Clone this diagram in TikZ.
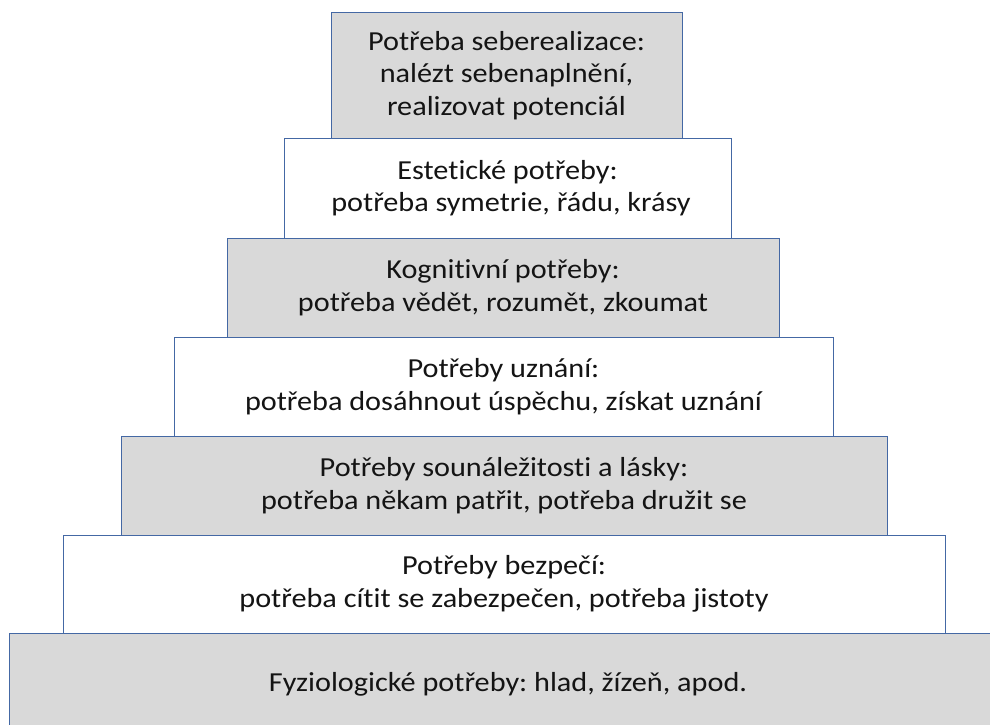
\documentclass[tikz,border=0pt]{standalone}
\usepackage{fontspec}
\setmainfont{Carlito}[FakeStretch=1.1, Ligatures=NoCommon]
\usepackage{tikz}
\usetikzlibrary{positioning}

\definecolor{edgeblue}{RGB}{68,104,164}
\definecolor{boxgray}{RGB}{217,217,217}
\frenchspacing

\begin{document}
\begin{tikzpicture}[x=1pt, y=-1pt, font=\fontsize{27.5}{32.5}\selectfont]

    % Styles for the pyramid steps
    \tikzset{
        needbox/.style={
            draw=edgeblue, line width=1pt, rectangle, align=center,
            inner sep=0pt, text=black!92
        },
        graystep/.style={needbox, fill=boxgray},
        whitestep/.style={needbox, fill=white}
    }

    \useasboundingbox (0,0) rectangle (990,725);

    % ==========================================
    % Bottom level (runs off the page)
    % ==========================================
    \node[graystep, minimum width=998pt, minimum height=102pt] (fyz) at (508,684)
        {Fyziologické potřeby: hlad, žízeň, apod.};

    % ==========================================
    % Middle levels
    % ==========================================
    \node[whitestep, minimum width=882pt, minimum height=98pt] (bezp) at (504,584)
        {Potřeby bezpečí:\\ potřeba cítit se zabezpečen, potřeba jistoty};
    \node[graystep, minimum width=766pt, minimum height=99pt] (soun) at (504,485.5)
        {Potřeby sounáležitosti a lásky:\\ potřeba někam patřit, potřeba družit se};
    \node[whitestep, minimum width=659pt, minimum height=99pt] (uzn) at (503.5,386.5)
        {Potřeby uznání:\\ potřeba dosáhnout úspěchu, získat uznání};
    \node[graystep, minimum width=552pt, minimum height=99pt] (kogn) at (503,287.5)
        {Kognitivní potřeby:\\ potřeba vědět, rozumět, zkoumat};
    \node[whitestep, minimum width=447pt, minimum height=100pt] (est) at (507.5,188)
        {Estetické potřeby:\\ \ potřeba symetrie, řádu, krásy};

    % ==========================================
    % Top level
    % ==========================================
    \node[graystep, minimum width=351pt, minimum height=125pt] (seb) at (506.5,75.5)
        {Potřeba seberealizace:\\ nalézt sebenaplnění,\\ realizovat potenciál};

\end{tikzpicture}
\end{document}
